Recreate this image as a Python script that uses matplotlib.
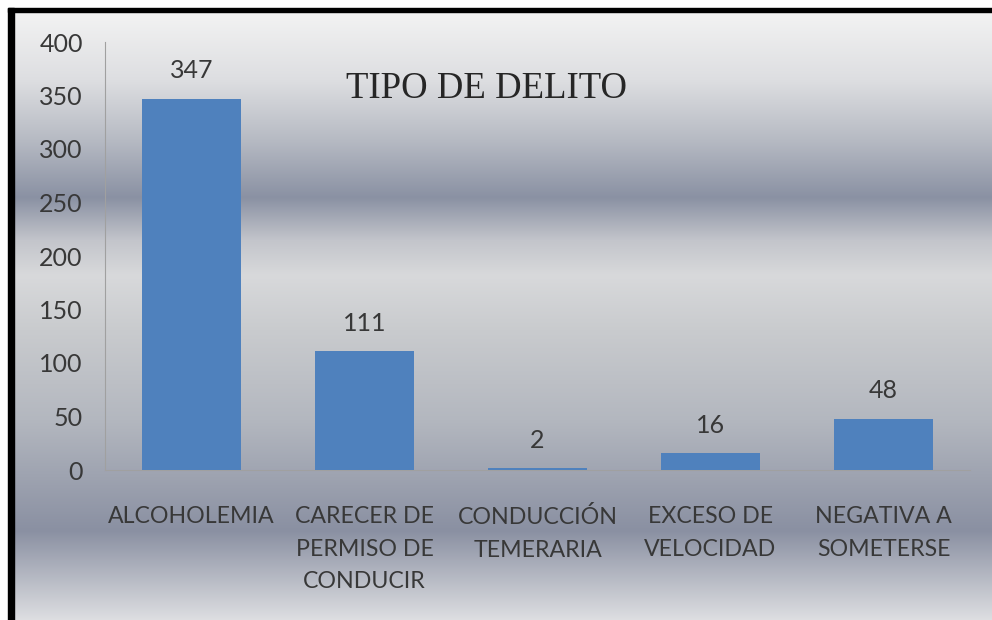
import matplotlib
matplotlib.use("Agg")
import matplotlib.pyplot as plt
from matplotlib.colors import to_rgb
from matplotlib.patches import Rectangle
import numpy as np

categories = ["ALCOHOLEMIA", "CARECER DE\nPERMISO DE\nCONDUCIR", "CONDUCCIÓN\nTEMERARIA",
              "EXCESO DE\nVELOCIDAD", "NEGATIVA A\nSOMETERSE"]
values = [347, 111, 2, 16, 48]
yticks = [0, 50, 100, 150, 200, 250, 300, 350, 400]
title = "TIPO DE DELITO"

W, H = 992, 620
BAR_COLOR = "#4F81BD"
TEXT_COLOR = "#383838"
SANS = ["Lato", "DejaVu Sans"]

fig = plt.figure(figsize=(W / 100, H / 100), dpi=100)
fig.patch.set_facecolor("white")

# background: silver gradient + black frame (pixel coordinates)
bg = fig.add_axes([0, 0, 1, 1])
bg.set_xlim(0, W)
bg.set_ylim(H, 0)
bg.axis("off")
stops = [(11, "#f3f3f3"), (80, "#dddee1"), (140, "#b6bac3"), (197, "#8a91a3"),
         (240, "#c3c5cb"), (275, "#d8d9db"), (330, "#c9cbce"), (420, "#b3b7bf"),
         (530, "#8a90a2"), (620, "#dedfe2")]
pos = [s[0] for s in stops]
cols = np.array([to_rgb(c) for _, c in stops])
ys = np.arange(11, H)
grad = np.stack([np.interp(ys, pos, cols[:, i]) for i in range(3)], axis=-1)[:, None, :]
bg.imshow(grad, extent=[11, W, H, 11], aspect="auto", interpolation="bilinear")
bg.add_patch(Rectangle((8, 8), W - 8, 4, color="black"))
bg.add_patch(Rectangle((8, 8), 6, H - 8, color="black"))

# main chart
ax = fig.add_axes([105 / W, 1 - 470 / H, (970 - 105) / W, 428 / H])
ax.set_facecolor("none")
x = np.arange(len(values))
ax.bar(x, values, width=0.57, color=BAR_COLOR, zorder=3)
ax.set_xlim(-0.5, len(values) - 0.5)
ax.set_ylim(0, 400)
ax.set_yticks(yticks)
ax.set_yticklabels([str(t) for t in yticks], family=SANS, fontsize=18, color=TEXT_COLOR)
ax.set_xticks(x)
ax.set_xticklabels(categories, family=SANS, fontsize=16.7, color=TEXT_COLOR, linespacing=1.68)
ax.tick_params(axis="y", length=0, pad=16)
ax.tick_params(axis="x", length=0, pad=26)
for s in ["top", "right"]:
    ax.spines[s].set_visible(False)
for s in ["left", "bottom"]:
    ax.spines[s].set_color("#a0a0a0")
    ax.spines[s].set_linewidth(0.8)

for xi, v in zip(x, values):
    ax.annotate(str(v), (xi, v), xytext=(0, 20), textcoords="offset points",
                ha="center", va="center", family=SANS, fontsize=18, color=TEXT_COLOR)

fig.text(486 / W, 1 - 89 / H, title, ha="center", va="center",
         family="Liberation Serif", fontsize=26.5, color="#262626")

fig.savefig("out.png", dpi=100)
